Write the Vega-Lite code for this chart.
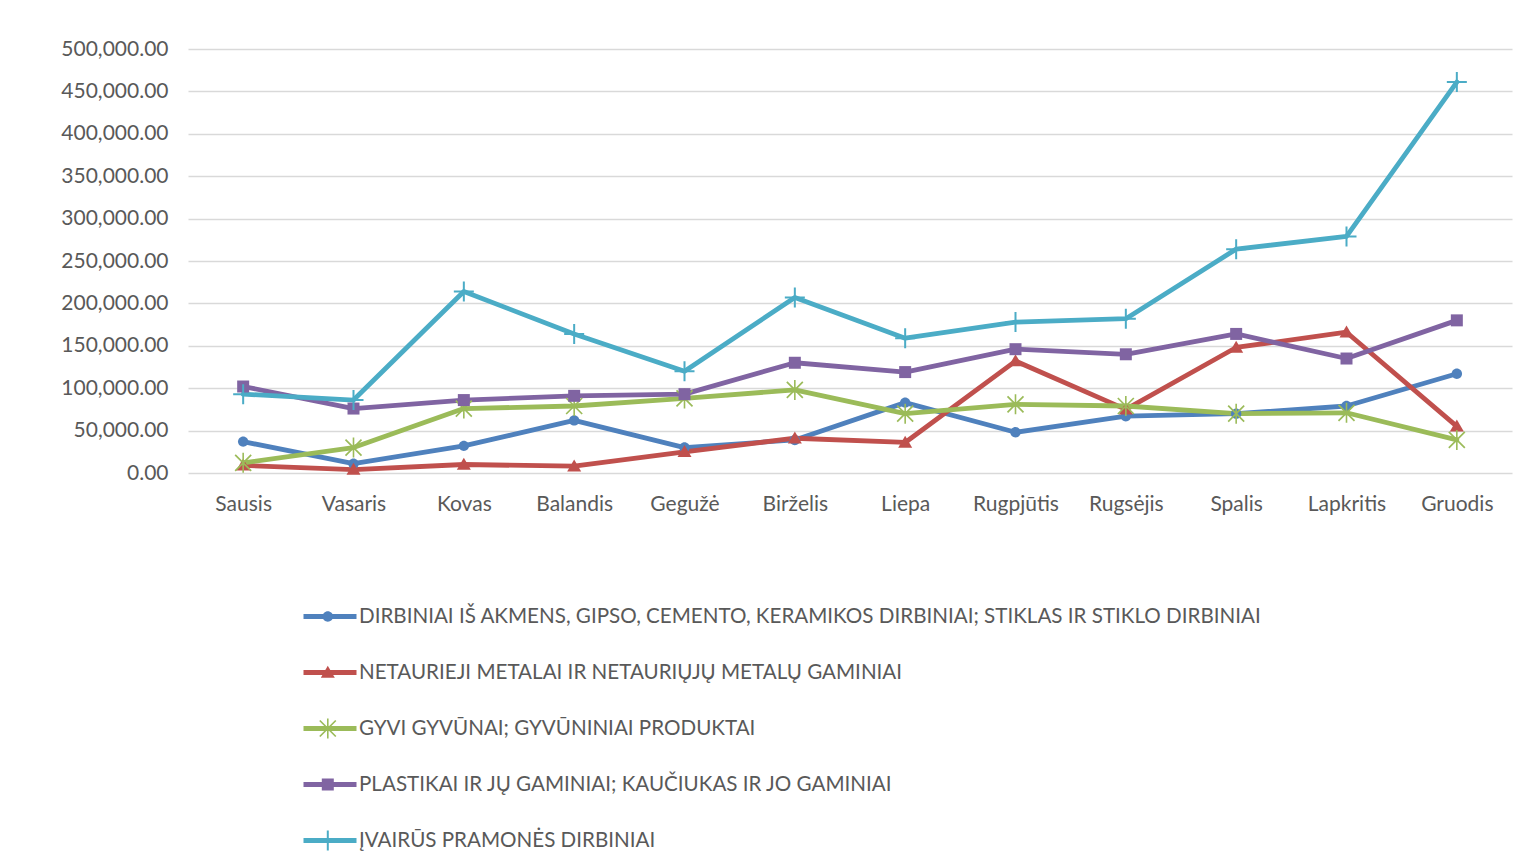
{
  "$schema": "https://vega.github.io/schema/vega-lite/v6.json",
  "width": 1324,
  "height": 424,
  "autosize": {"type": "none"},
  "padding": {"left": 188, "top": 49, "right": 14, "bottom": 393},
  "background": "white",
  "config": {"view": {"stroke": null}, "font": "Lato"},
  "data": {"values": [
    {"m": "Sausis", "s": "DIRBINIAI IŠ AKMENS, GIPSO, CEMENTO, KERAMIKOS DIRBINIAI; STIKLAS IR STIKLO DIRBINIAI", "o": 1, "v": 37000},
    {"m": "Vasaris", "s": "DIRBINIAI IŠ AKMENS, GIPSO, CEMENTO, KERAMIKOS DIRBINIAI; STIKLAS IR STIKLO DIRBINIAI", "o": 1, "v": 11000},
    {"m": "Kovas", "s": "DIRBINIAI IŠ AKMENS, GIPSO, CEMENTO, KERAMIKOS DIRBINIAI; STIKLAS IR STIKLO DIRBINIAI", "o": 1, "v": 32000},
    {"m": "Balandis", "s": "DIRBINIAI IŠ AKMENS, GIPSO, CEMENTO, KERAMIKOS DIRBINIAI; STIKLAS IR STIKLO DIRBINIAI", "o": 1, "v": 62000},
    {"m": "Gegužė", "s": "DIRBINIAI IŠ AKMENS, GIPSO, CEMENTO, KERAMIKOS DIRBINIAI; STIKLAS IR STIKLO DIRBINIAI", "o": 1, "v": 30000},
    {"m": "Birželis", "s": "DIRBINIAI IŠ AKMENS, GIPSO, CEMENTO, KERAMIKOS DIRBINIAI; STIKLAS IR STIKLO DIRBINIAI", "o": 1, "v": 39000},
    {"m": "Liepa", "s": "DIRBINIAI IŠ AKMENS, GIPSO, CEMENTO, KERAMIKOS DIRBINIAI; STIKLAS IR STIKLO DIRBINIAI", "o": 1, "v": 83000},
    {"m": "Rugpjūtis", "s": "DIRBINIAI IŠ AKMENS, GIPSO, CEMENTO, KERAMIKOS DIRBINIAI; STIKLAS IR STIKLO DIRBINIAI", "o": 1, "v": 48000},
    {"m": "Rugsėjis", "s": "DIRBINIAI IŠ AKMENS, GIPSO, CEMENTO, KERAMIKOS DIRBINIAI; STIKLAS IR STIKLO DIRBINIAI", "o": 1, "v": 67000},
    {"m": "Spalis", "s": "DIRBINIAI IŠ AKMENS, GIPSO, CEMENTO, KERAMIKOS DIRBINIAI; STIKLAS IR STIKLO DIRBINIAI", "o": 1, "v": 70000},
    {"m": "Lapkritis", "s": "DIRBINIAI IŠ AKMENS, GIPSO, CEMENTO, KERAMIKOS DIRBINIAI; STIKLAS IR STIKLO DIRBINIAI", "o": 1, "v": 79000},
    {"m": "Gruodis", "s": "DIRBINIAI IŠ AKMENS, GIPSO, CEMENTO, KERAMIKOS DIRBINIAI; STIKLAS IR STIKLO DIRBINIAI", "o": 1, "v": 117000},
    {"m": "Sausis", "s": "NETAURIEJI METALAI IR NETAURIŲJŲ METALŲ GAMINIAI", "o": 2, "v": 9000},
    {"m": "Vasaris", "s": "NETAURIEJI METALAI IR NETAURIŲJŲ METALŲ GAMINIAI", "o": 2, "v": 4000},
    {"m": "Kovas", "s": "NETAURIEJI METALAI IR NETAURIŲJŲ METALŲ GAMINIAI", "o": 2, "v": 10000},
    {"m": "Balandis", "s": "NETAURIEJI METALAI IR NETAURIŲJŲ METALŲ GAMINIAI", "o": 2, "v": 8000},
    {"m": "Gegužė", "s": "NETAURIEJI METALAI IR NETAURIŲJŲ METALŲ GAMINIAI", "o": 2, "v": 25000},
    {"m": "Birželis", "s": "NETAURIEJI METALAI IR NETAURIŲJŲ METALŲ GAMINIAI", "o": 2, "v": 41000},
    {"m": "Liepa", "s": "NETAURIEJI METALAI IR NETAURIŲJŲ METALŲ GAMINIAI", "o": 2, "v": 36000},
    {"m": "Rugpjūtis", "s": "NETAURIEJI METALAI IR NETAURIŲJŲ METALŲ GAMINIAI", "o": 2, "v": 132000},
    {"m": "Rugsėjis", "s": "NETAURIEJI METALAI IR NETAURIŲJŲ METALŲ GAMINIAI", "o": 2, "v": 75000},
    {"m": "Spalis", "s": "NETAURIEJI METALAI IR NETAURIŲJŲ METALŲ GAMINIAI", "o": 2, "v": 148000},
    {"m": "Lapkritis", "s": "NETAURIEJI METALAI IR NETAURIŲJŲ METALŲ GAMINIAI", "o": 2, "v": 166000},
    {"m": "Gruodis", "s": "NETAURIEJI METALAI IR NETAURIŲJŲ METALŲ GAMINIAI", "o": 2, "v": 55000},
    {"m": "Sausis", "s": "GYVI GYVŪNAI; GYVŪNINIAI PRODUKTAI", "o": 3, "v": 12000},
    {"m": "Vasaris", "s": "GYVI GYVŪNAI; GYVŪNINIAI PRODUKTAI", "o": 3, "v": 30000},
    {"m": "Kovas", "s": "GYVI GYVŪNAI; GYVŪNINIAI PRODUKTAI", "o": 3, "v": 76000},
    {"m": "Balandis", "s": "GYVI GYVŪNAI; GYVŪNINIAI PRODUKTAI", "o": 3, "v": 79000},
    {"m": "Gegužė", "s": "GYVI GYVŪNAI; GYVŪNINIAI PRODUKTAI", "o": 3, "v": 88000},
    {"m": "Birželis", "s": "GYVI GYVŪNAI; GYVŪNINIAI PRODUKTAI", "o": 3, "v": 98000},
    {"m": "Liepa", "s": "GYVI GYVŪNAI; GYVŪNINIAI PRODUKTAI", "o": 3, "v": 70000},
    {"m": "Rugpjūtis", "s": "GYVI GYVŪNAI; GYVŪNINIAI PRODUKTAI", "o": 3, "v": 81000},
    {"m": "Rugsėjis", "s": "GYVI GYVŪNAI; GYVŪNINIAI PRODUKTAI", "o": 3, "v": 79000},
    {"m": "Spalis", "s": "GYVI GYVŪNAI; GYVŪNINIAI PRODUKTAI", "o": 3, "v": 70000},
    {"m": "Lapkritis", "s": "GYVI GYVŪNAI; GYVŪNINIAI PRODUKTAI", "o": 3, "v": 71000},
    {"m": "Gruodis", "s": "GYVI GYVŪNAI; GYVŪNINIAI PRODUKTAI", "o": 3, "v": 39000},
    {"m": "Sausis", "s": "PLASTIKAI IR JŲ GAMINIAI; KAUČIUKAS IR JO GAMINIAI", "o": 4, "v": 102000},
    {"m": "Vasaris", "s": "PLASTIKAI IR JŲ GAMINIAI; KAUČIUKAS IR JO GAMINIAI", "o": 4, "v": 76000},
    {"m": "Kovas", "s": "PLASTIKAI IR JŲ GAMINIAI; KAUČIUKAS IR JO GAMINIAI", "o": 4, "v": 86000},
    {"m": "Balandis", "s": "PLASTIKAI IR JŲ GAMINIAI; KAUČIUKAS IR JO GAMINIAI", "o": 4, "v": 91000},
    {"m": "Gegužė", "s": "PLASTIKAI IR JŲ GAMINIAI; KAUČIUKAS IR JO GAMINIAI", "o": 4, "v": 93000},
    {"m": "Birželis", "s": "PLASTIKAI IR JŲ GAMINIAI; KAUČIUKAS IR JO GAMINIAI", "o": 4, "v": 130000},
    {"m": "Liepa", "s": "PLASTIKAI IR JŲ GAMINIAI; KAUČIUKAS IR JO GAMINIAI", "o": 4, "v": 119000},
    {"m": "Rugpjūtis", "s": "PLASTIKAI IR JŲ GAMINIAI; KAUČIUKAS IR JO GAMINIAI", "o": 4, "v": 146000},
    {"m": "Rugsėjis", "s": "PLASTIKAI IR JŲ GAMINIAI; KAUČIUKAS IR JO GAMINIAI", "o": 4, "v": 140000},
    {"m": "Spalis", "s": "PLASTIKAI IR JŲ GAMINIAI; KAUČIUKAS IR JO GAMINIAI", "o": 4, "v": 164000},
    {"m": "Lapkritis", "s": "PLASTIKAI IR JŲ GAMINIAI; KAUČIUKAS IR JO GAMINIAI", "o": 4, "v": 135000},
    {"m": "Gruodis", "s": "PLASTIKAI IR JŲ GAMINIAI; KAUČIUKAS IR JO GAMINIAI", "o": 4, "v": 180000},
    {"m": "Sausis", "s": "ĮVAIRŪS PRAMONĖS DIRBINIAI", "o": 5, "v": 93000},
    {"m": "Vasaris", "s": "ĮVAIRŪS PRAMONĖS DIRBINIAI", "o": 5, "v": 86000},
    {"m": "Kovas", "s": "ĮVAIRŪS PRAMONĖS DIRBINIAI", "o": 5, "v": 214000},
    {"m": "Balandis", "s": "ĮVAIRŪS PRAMONĖS DIRBINIAI", "o": 5, "v": 164000},
    {"m": "Gegužė", "s": "ĮVAIRŪS PRAMONĖS DIRBINIAI", "o": 5, "v": 120000},
    {"m": "Birželis", "s": "ĮVAIRŪS PRAMONĖS DIRBINIAI", "o": 5, "v": 207000},
    {"m": "Liepa", "s": "ĮVAIRŪS PRAMONĖS DIRBINIAI", "o": 5, "v": 159000},
    {"m": "Rugpjūtis", "s": "ĮVAIRŪS PRAMONĖS DIRBINIAI", "o": 5, "v": 178000},
    {"m": "Rugsėjis", "s": "ĮVAIRŪS PRAMONĖS DIRBINIAI", "o": 5, "v": 182000},
    {"m": "Spalis", "s": "ĮVAIRŪS PRAMONĖS DIRBINIAI", "o": 5, "v": 264000},
    {"m": "Lapkritis", "s": "ĮVAIRŪS PRAMONĖS DIRBINIAI", "o": 5, "v": 279000},
    {"m": "Gruodis", "s": "ĮVAIRŪS PRAMONĖS DIRBINIAI", "o": 5, "v": 461000}
  ]},
  "encoding": {
    "x": {
      "field": "m", "type": "nominal",
      "sort": ["Sausis", "Vasaris", "Kovas", "Balandis", "Gegužė", "Birželis", "Liepa", "Rugpjūtis", "Rugsėjis", "Spalis", "Lapkritis", "Gruodis"],
      "scale": {"type": "point", "padding": 0.5},
      "axis": {"title": null, "labelAngle": 0, "ticks": false, "domain": false, "grid": false, "labelPadding": 20, "labelFont": "Lato", "labelFontSize": 21, "labelColor": "#595959"}
    },
    "y": {
      "field": "v", "type": "quantitative",
      "scale": {"domain": [0, 500000], "nice": false},
      "axis": {"title": null, "values": [0, 50000, 100000, 150000, 200000, 250000, 300000, 350000, 400000, 450000, 500000], "format": ",.2f", "ticks": false, "domain": false, "grid": true, "gridColor": "#d9d9d9", "gridWidth": 1.3, "labelPadding": 20, "labelFont": "Lato", "labelFontSize": 21, "labelColor": "#595959"}
    }
  },
  "layer": [
    {
      "mark": {"type": "line", "strokeWidth": 4.8, "strokeCap": "round", "strokeJoin": "round"},
      "encoding": {
        "stroke": {
          "field": "s", "type": "nominal",
          "sort": {"field": "o", "op": "min"},
          "scale": {"range": ["#4F81BD", "#C0504D", "#9BBB59", "#8064A2", "#4BACC6"]},
          "legend": {"orient": "none", "legendX": 113, "legendY": 541, "direction": "vertical", "title": null, "symbolType": "stroke", "symbolSize": 2809, "symbolStrokeWidth": 4.8, "clipHeight": 53, "rowPadding": 3, "labelFont": "Lato", "labelFontSize": 20.6, "labelColor": "#595959", "labelOffset": 0, "labelLimit": 0, "padding": 0}
        }
      }
    },
    {
      "mark": {"type": "point", "filled": true, "size": 400, "opacity": 1},
      "encoding": {
        "fill": {
          "field": "s", "type": "nominal",
          "scale": {"domain": ["DIRBINIAI IŠ AKMENS, GIPSO, CEMENTO, KERAMIKOS DIRBINIAI; STIKLAS IR STIKLO DIRBINIAI", "NETAURIEJI METALAI IR NETAURIŲJŲ METALŲ GAMINIAI", "GYVI GYVŪNAI; GYVŪNINIAI PRODUKTAI", "PLASTIKAI IR JŲ GAMINIAI; KAUČIUKAS IR JO GAMINIAI", "ĮVAIRŪS PRAMONĖS DIRBINIAI"], "range": ["#4F81BD", "#C0504D", "#9BBB59", "#8064A2", "#4BACC6"]},
          "legend": {"orient": "none", "legendX": 129.5, "legendY": 541, "direction": "vertical", "title": null, "symbolSize": 400, "symbolStrokeWidth": 0, "clipHeight": 53, "rowPadding": 3, "labelFontSize": 20.6, "labelExpr": "''", "labelLimit": 0, "padding": 0}
        },
        "shape": {
          "field": "s", "type": "nominal",
          "scale": {"domain": ["DIRBINIAI IŠ AKMENS, GIPSO, CEMENTO, KERAMIKOS DIRBINIAI; STIKLAS IR STIKLO DIRBINIAI", "NETAURIEJI METALAI IR NETAURIŲJŲ METALŲ GAMINIAI", "GYVI GYVŪNAI; GYVŪNINIAI PRODUKTAI", "PLASTIKAI IR JŲ GAMINIAI; KAUČIUKAS IR JO GAMINIAI", "ĮVAIRŪS PRAMONĖS DIRBINIAI"],
            "range": [
              "M0.52,0A0.52,0.52,0,1,1,-0.52,0A0.52,0.52,0,1,1,0.52,0Z",
              "M0,-0.68L0.7,0.52L-0.7,0.52Z",
              "M-0.08,-1H0.08V1H-0.08Z M-0.86,-0.74L-0.74,-0.86L0.86,0.74L0.74,0.86Z M0.74,-0.86L0.86,-0.74L-0.74,0.86L-0.86,0.74Z",
              "M-0.6,-0.6H0.6V0.6H-0.6Z",
              "M-1,-0.1H-0.1V-1H0.1V-0.1H1V0.1H0.1V1H-0.1V0.1H-1Z"
            ]},
          "legend": {"orient": "none", "legendX": 129.5, "legendY": 541, "direction": "vertical", "title": null, "symbolSize": 400, "symbolStrokeWidth": 0, "clipHeight": 53, "rowPadding": 3, "labelFontSize": 20.6, "labelExpr": "''", "labelLimit": 0, "padding": 0}
        }
      }
    }
  ]
}
